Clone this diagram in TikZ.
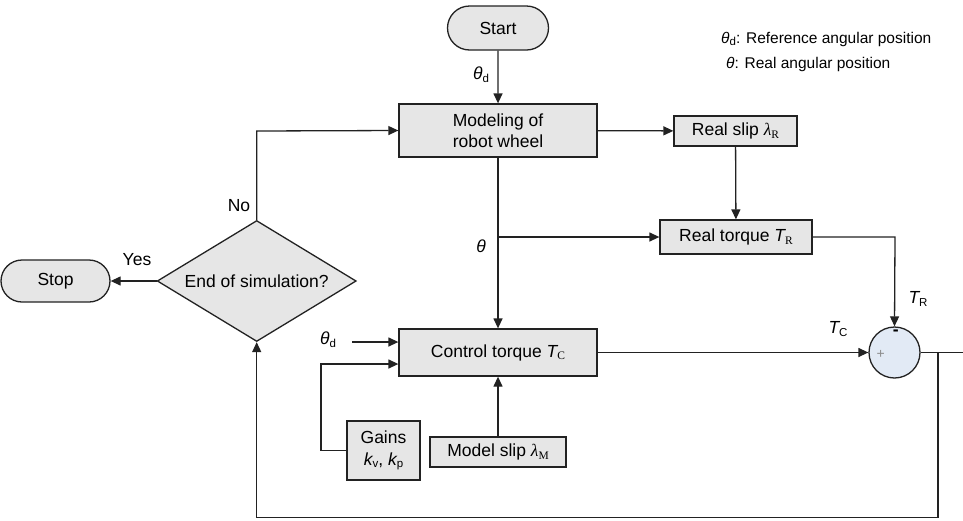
\documentclass[tikz,border=0pt]{standalone}
\usepackage{fontspec}
\setmainfont{Liberation Sans}
\newfontfamily\serfont{Liberation Serif}
\usetikzlibrary{arrows.meta,shapes.geometric,shapes.misc,calc}
\definecolor{boxgray}{HTML}{E6E6E6}
\definecolor{sumblue}{HTML}{E2EAF5}
\definecolor{ink}{HTML}{222222}
\newcommand\mysub[1]{\raisebox{-0.3ex}{\fontsize{11.5}{11.5}\selectfont #1}}
\newcommand\sersub[1]{\raisebox{-0.3ex}{\fontsize{11.5}{11.5}\selectfont\serfont #1}}
\newcommand\thd{{\itshape θ}\mysub{d}}
\begin{document}
\begin{tikzpicture}[x=1pt,y=-1pt,
  every node/.style={font=\fontsize{17.5}{21.5}\selectfont},
  blk/.style={draw=ink,fill=boxgray,line width=1.3pt,inner sep=0pt,align=center},
  term/.style={draw=ink,fill=boxgray,line width=1.3pt,rounded rectangle,inner sep=0pt},
  lbl/.style={inner sep=0pt},
  conn/.style={line width=1.3pt,draw=ink},
  arr/.style={conn,-{Triangle[length=10pt,width=9pt]}}]
\useasboundingbox (0,0) rectangle (963,520);
% nodes
\node[term,minimum width=101pt,minimum height=44pt] (start) at (498,28) {Start};
\node[blk,minimum width=198pt,minimum height=53pt] (model) at (498,130.5) {Modeling of\\robot wheel};
\node[blk,minimum width=123pt,minimum height=30pt] (slip) at (735.5,131) {Real slip {\serfont\itshape λ}\sersub{R}};
\node[blk,minimum width=152pt,minimum height=34pt] (rtorque) at (736,237) {Real torque {\itshape T}\sersub{R}};
\node[blk,minimum width=198pt,minimum height=47pt] (ctorque) at (498,352.5) {Control torque {\itshape T}\sersub{C}};
\node[blk,minimum width=73pt,minimum height=59pt] (gains) at (383.5,450.5) {Gains\\{\itshape k}\mysub{v}, {\itshape k}\mysub{p}};
\node[blk,minimum width=136pt,minimum height=30pt] (mslip) at (498,452) {Model slip {\serfont\itshape λ}\sersub{M}};
\node[draw=ink,fill=sumblue,line width=1.3pt,circle,minimum size=51pt,inner sep=0pt] (sum) at (894.5,352.5) {};
\node[draw=ink,fill=boxgray,line width=1.3pt,diamond,aspect=1.645,minimum width=199pt,minimum height=121pt,inner sep=0pt] (dec) at (256.7,281) {End of simulation?};
\node[term,minimum width=109pt,minimum height=42pt] (stop) at (55.5,281) {Stop};
% labels
\node[lbl] (l1) at (481,75) {\thd};
\node[lbl] (l2) at (481,246) {{\itshape θ}};
\node[lbl] (l3) at (328,340) {\thd};
\node[lbl] (l4) at (838,329) {{\itshape T}\mysub{C}};
\node[lbl] (l5) at (918,299) {{\itshape T}\mysub{R}};
\node[lbl,font=\fontsize{14}{14}\selectfont,text=black!45] (lplus) at (880.7,354.5) {+};
\node[lbl,font=\bfseries\fontsize{17.5}{18}\selectfont] (lminus) at (895.7,333) {-};
\node[lbl] (lno) at (239,206) {No};
\node[lbl] (lyes) at (137,260) {Yes};
\node[lbl,anchor=west,font=\fontsize{15.5}{18}\selectfont] (leg1) at (721,39) {\thd: Reference angular position};
\node[lbl,anchor=west,font=\fontsize{15.5}{18}\selectfont] (leg2) at (726,64) {{\itshape θ}: Real angular position};
% coordinates
\coordinate (br) at (498,237);
\coordinate (tr) at (895,237);
\coordinate (redge) at (963,352.5);
\coordinate (fb) at (938,352.5);
\coordinate (fbb) at (938,517.7);
\coordinate (fbl) at (256.7,517.7);
\coordinate (up) at (256.7,131);
\coordinate (thin) at (352,342);
\coordinate (gl) at (321,450.5);
\coordinate (gu) at (321,364);
% connectors
\draw[arr] (start) -- (model);
\draw[arr] (model) -- (slip);
\draw[arr] (slip) -- (rtorque);
\draw[arr] (model) -- (ctorque);
\draw[arr] (br) -- (br -| rtorque.west);
\draw[arr] (rtorque.east |- tr) -- (tr) -- (sum.north);
\draw[arr] (ctorque) -- (sum);
\draw[conn] (sum.east) -- (redge);
\draw[arr] (fb) -- (fbb) -- (fbl) -- (dec.south);
\draw[arr] (dec.north) -- (up) -- (model.west);
\draw[arr] (dec.west) -- (stop.east);
\draw[arr] (thin) -- (thin -| ctorque.west);
\draw[arr] (gains.west) -- (gl) -- (gu) -- (gu -| ctorque.west);
\draw[arr] (mslip) -- (ctorque);
\end{tikzpicture}
\end{document}
